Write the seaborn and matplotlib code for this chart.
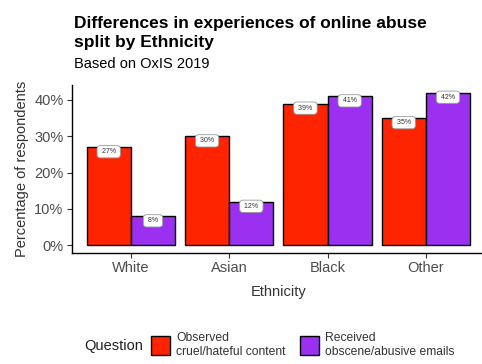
import matplotlib
matplotlib.use("Agg")
import matplotlib.pyplot as plt
import seaborn as sns
import pandas as pd
from matplotlib.patches import Patch

ethnicity = ["White", "Asian", "Black", "Other"]
questions = ["Observed\ncruel/hateful content", "Received\nobscene/abusive emails"]
observed = [27, 30, 39, 35]
received = [8, 12, 41, 42]
colors = ["#FF2400", "#9B30F0"]

rows = []
for e, o, r in zip(ethnicity, observed, received):
    rows.append({"Ethnicity": e, "Question": questions[0], "value": o})
    rows.append({"Ethnicity": e, "Question": questions[1], "value": r})
df = pd.DataFrame(rows)

sns.set_theme(style="white")
plt.rcParams["font.family"] = ["Liberation Sans", "DejaVu Sans"]

fig = plt.figure(figsize=(4.82, 3.64), dpi=100)
ax = fig.add_axes([0.149, 0.305, 0.857, 0.4615])

sns.barplot(data=df, x="Ethnicity", y="value", hue="Question", order=ethnicity,
            hue_order=questions, palette=colors, width=0.9, edgecolor="black",
            linewidth=1.0, saturation=1, ax=ax, legend=False)

for cont in ax.containers:
    for b in cont:
        h = b.get_height()
        ax.annotate(f" {int(round(h))}% ", xy=(b.get_x() + b.get_width() / 2, h),
                    xytext=(0, -3.3), textcoords="offset points",
                    ha="center", va="center", fontsize=5.0, color="#333333",
                    bbox=dict(boxstyle="round,pad=0.38,rounding_size=0.5", fc="white",
                              ec="#999999", lw=0.6))

ax.set_xlim(-0.6, 3.6)
ax.set_ylim(-2.1, 44.1)
ax.set_yticks([0, 10, 20, 30, 40])
ax.set_yticklabels(["0%", "10%", "20%", "30%", "40%"])
ax.tick_params(axis="both", labelsize=10.5, colors="#333333", length=3.5, width=0.8,
               left=True, bottom=True, pad=2.5)
for lbl in ax.get_xticklabels() + ax.get_yticklabels():
    lbl.set_color("#4D4D4D")
ax.set_xlabel("Ethnicity", fontsize=10.5, color="#333333")
ax.set_ylabel("Percentage of respondents", fontsize=10.5, color="#333333")
ax.xaxis.set_label_coords(0.5, -0.19)
ax.yaxis.set_label_coords(-0.104, 0.5)
for s in ["top", "right"]:
    ax.spines[s].set_visible(False)
for s in ["left", "bottom"]:
    ax.spines[s].set_color("black")
    ax.spines[s].set_linewidth(1.0)

fig.text(0.154, 0.955, "Differences in experiences of online abuse\nsplit by Ethnicity",
         fontsize=12.5, fontweight="bold", ha="left", va="top", linespacing=1.3,
         color="black")
fig.text(0.154, 0.824, "Based on OxIS 2019", fontsize=10.5, ha="left", va="center",
         color="black")

handles = [Patch(facecolor=c, edgecolor="black", linewidth=1.0) for c in colors]
fig.text(0.297, 0.05, "Question", fontsize=10.5, ha="right", va="center", color="#222222")
fig.legend(handles, questions, loc="center left", bbox_to_anchor=(0.313, 0.052),
           ncol=2, frameon=False, fontsize=8.7, handlelength=1.57, handleheight=2.0,
           handletextpad=0.5, columnspacing=1.2, borderaxespad=0, borderpad=0,
           labelspacing=0, labelcolor="#333333")

fig.savefig("out.png", dpi=100, facecolor="white")
